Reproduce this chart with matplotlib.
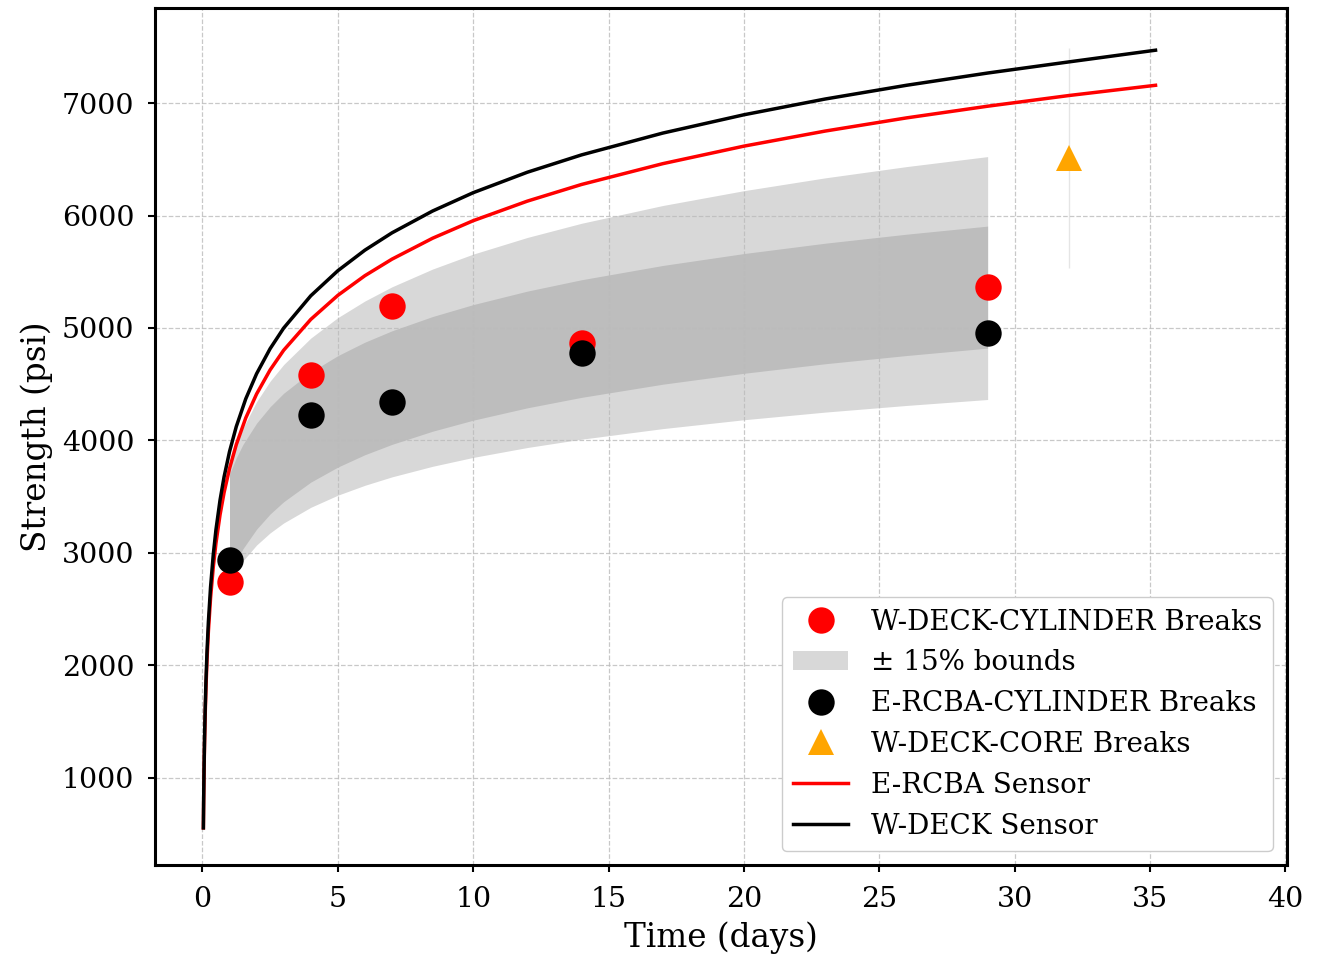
import matplotlib
matplotlib.use('Agg')
import matplotlib.pyplot as plt
from matplotlib.patches import Patch
from matplotlib.lines import Line2D

plt.rcParams['font.family'] = 'DejaVu Serif'

# cylinder / core break tests
break_days = [1, 4, 7, 14, 29]
w_deck_cyl = [2740, 4582, 5196, 4865, 5363]
e_rcba_cyl = [2938, 4227, 4342, 4776, 4955]
core_day = [32]
core_strength = [6510]
core_err = [980]

# sensor maturity curves
sensor_days = [0.035, 0.045, 0.06, 0.08, 0.1, 0.13, 0.17, 0.22, 0.3, 0.4, 0.5, 0.65, 0.8, 1,
               1.25, 1.6, 2, 2.5, 3, 4, 5, 6, 7, 8.5, 10, 12, 14, 17, 20, 23, 26, 29, 32, 35.2]
w_deck_sensor = [555, 799, 1087, 1374, 1597, 1860, 2128, 2386, 2696, 2984, 3207, 3469, 3677,
                 3900, 4123, 4370, 4593, 4816, 4999, 5286, 5509, 5692, 5846, 6040, 6203, 6385,
                 6539, 6733, 6896, 7036, 7158, 7267, 7366, 7470]
e_rcba_sensor = [555, 782, 1058, 1333, 1546, 1798, 2054, 2301, 2598, 2873, 3087, 3338, 3537,
                 3750, 3963, 4200, 4413, 4627, 4802, 5076, 5290, 5465, 5612, 5798, 5954, 6128,
                 6276, 6461, 6617, 6751, 6868, 6972, 7067, 7158]

# +/- 15% bands
band_days = [1, 1.25, 1.5, 2, 2.5, 3, 4, 5, 6, 7, 8.5, 10, 12, 14, 17, 20, 23, 26, 29]
band1_lo = [2734, 2842, 2930, 3070, 3178, 3266, 3405, 3513, 3601, 3676, 3770, 3849, 3937, 4011,
            4105, 4184, 4252, 4311, 4364]
band1_hi = [3700, 3846, 3966, 4154, 4300, 4420, 4608, 4754, 4874, 4975, 5102, 5208, 5328, 5429,
            5556, 5662, 5754, 5834, 5906]
band2_lo = [2794, 2928, 3038, 3211, 3346, 3455, 3629, 3763, 3873, 3965, 4082, 4180, 4290, 4383,
            4500, 4597, 4682, 4755, 4821]
band2_hi = [3780, 3962, 4110, 4345, 4527, 4675, 4910, 5092, 5240, 5366, 5524, 5657, 5805, 5931,
            6089, 6221, 6335, 6435, 6524]

fig = plt.figure(figsize=(13.32, 9.56), dpi=100)
ax = fig.add_axes([0.1164, 0.0952, 0.8497, 0.8964])

ax.fill_between(band_days, band1_lo, band1_hi, color='gray', alpha=0.3, lw=0)
ax.fill_between(band_days, band2_lo, band2_hi, color='gray', alpha=0.3, lw=0)

ax.errorbar(core_day, core_strength, yerr=core_err, fmt='none', ecolor='#cccccc', alpha=0.5, lw=1)

ax.plot(sensor_days, e_rcba_sensor, color='red', lw=2.5)
ax.plot(sensor_days, w_deck_sensor, color='black', lw=2.5)

ax.plot(break_days, w_deck_cyl, 'o', color='red', ms=19, mew=0)
ax.plot(break_days, e_rcba_cyl, 'o', color='black', ms=19, mew=0)
ax.plot(core_day, core_strength, '^', color='orange', ms=19, mew=0)

ax.set_xlim(-1.75, 40.05)
ax.set_ylim(225, 7845)
ax.set_xticks(range(0, 41, 5))
ax.set_yticks(range(1000, 7001, 1000))
ax.tick_params(labelsize=20.5, length=5, width=1.5, pad=10)
for s in ax.spines.values():
    s.set_linewidth(2.2)
ax.grid(True, linestyle='--', color='#bbbbbb', lw=0.9, alpha=0.8)
ax.set_xlabel('Time (days)', fontsize=23.5, labelpad=6)
ax.set_ylabel('Strength (psi)', fontsize=23.5, labelpad=6)

handles = [
    Line2D([], [], marker='o', ls='none', color='red', ms=19, mew=0),
    Patch(facecolor='gray', alpha=0.3, lw=0),
    Line2D([], [], marker='o', ls='none', color='black', ms=19, mew=0),
    Line2D([], [], marker='^', ls='none', color='orange', ms=19, mew=0),
    Line2D([], [], color='red', lw=2.5),
    Line2D([], [], color='black', lw=2.5),
]
labels = ['W-DECK-CYLINDER Breaks', '± 15% bounds', 'E-RCBA-CYLINDER Breaks',
          'W-DECK-CORE Breaks', 'E-RCBA Sensor', 'W-DECK Sensor']
ax.legend(handles, labels, loc='lower right', fontsize=20, framealpha=1)

plt.savefig('out.png', dpi=100)
